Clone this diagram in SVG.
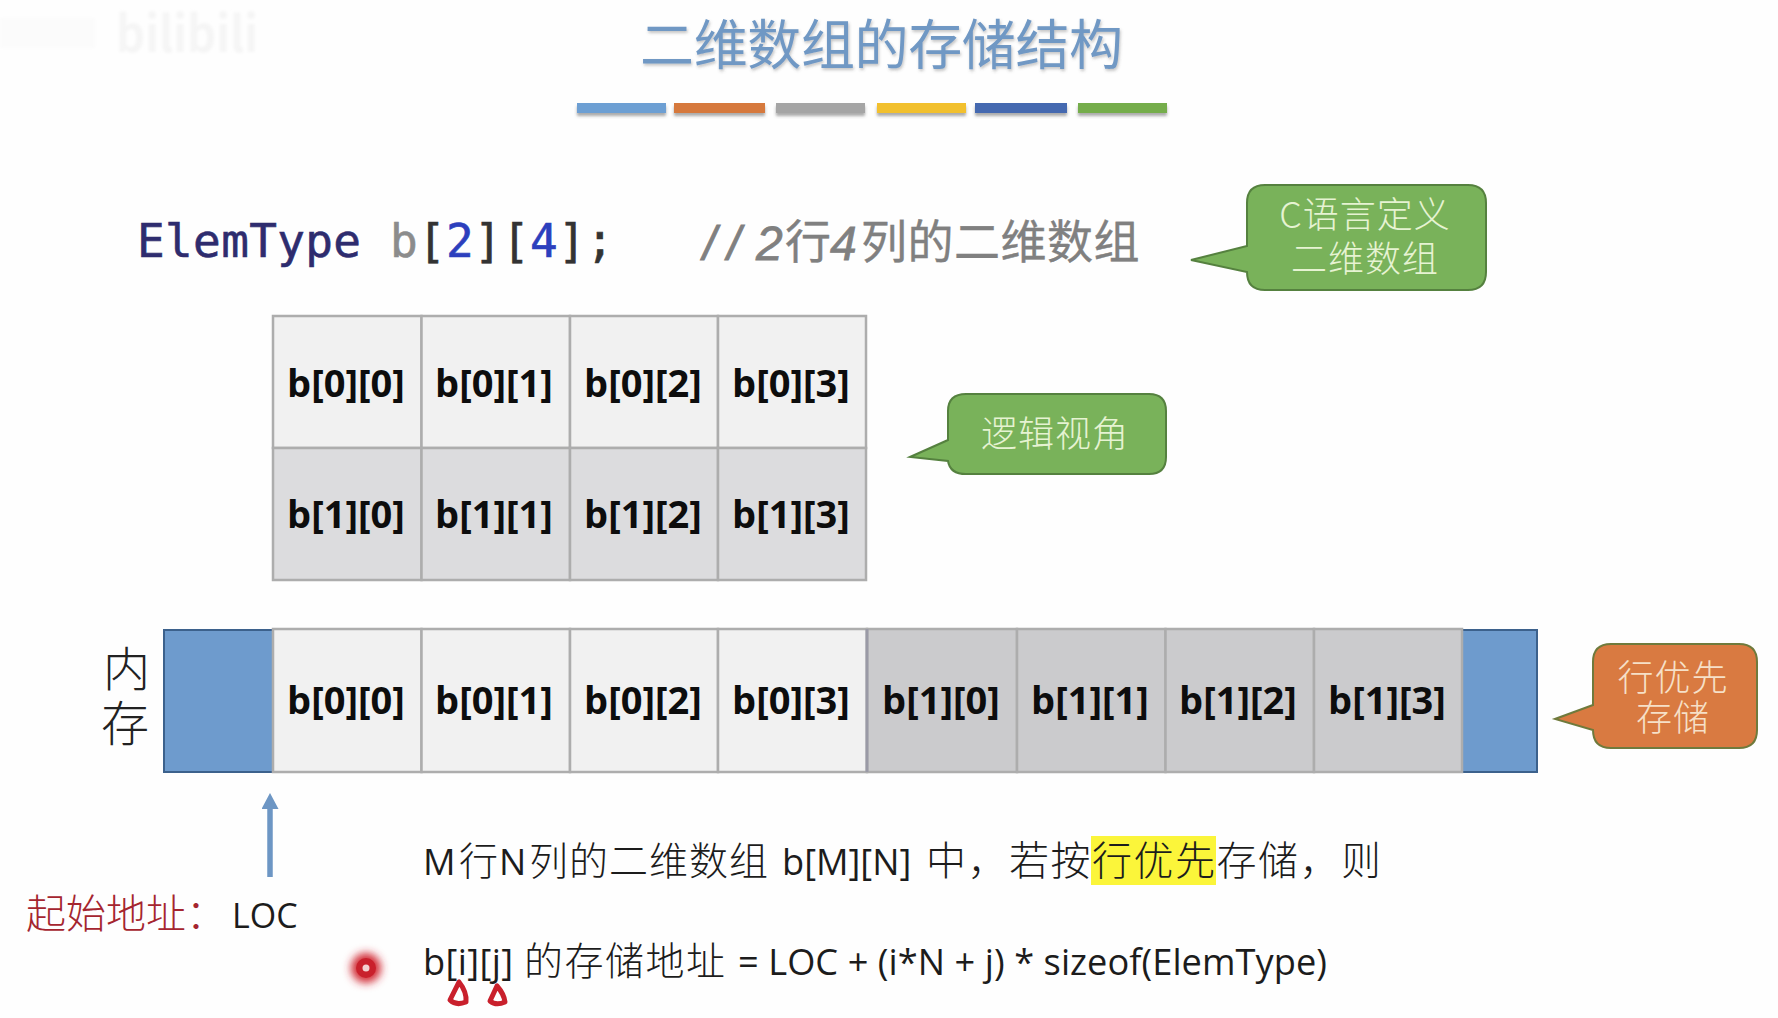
<svg xmlns="http://www.w3.org/2000/svg" width="1778" height="1018" viewBox="0 0 1778 1018">
<defs>
<filter id="sh" x="-10%" y="-20%" width="120%" height="160%"><feDropShadow dx="1" dy="2" stdDeviation="1.5" flood-color="#555" flood-opacity="0.35"/></filter>
<filter id="bar" x="-5%" y="-30%" width="110%" height="190%"><feDropShadow dx="0" dy="3" stdDeviation="1.5" flood-color="#555" flood-opacity="0.5"/></filter>
<filter id="glow" x="-80%" y="-80%" width="260%" height="260%"><feGaussianBlur stdDeviation="4"/></filter>
<filter id="wm" x="-10%" y="-30%" width="120%" height="160%"><feGaussianBlur stdDeviation="1.5"/></filter>
<marker id="up" viewBox="0 0 16 17" refX="1" refY="8.5" markerWidth="16" markerHeight="17" markerUnits="userSpaceOnUse" orient="auto"><path d="M0 0 L16 8.500 L0 17 Z" fill="#6d96c4"/></marker>
</defs>
<style>
text{font-family:"Noto Sans CJK SC","Noto Sans",sans-serif}
.cell{stroke:#adadad;stroke-width:2.5}
.l{fill:#f1f1f1}.d{fill:#dcdcde}.g{fill:#cbcbcd}.b{fill:#6e9bcd;stroke:#3c618c;stroke-width:2}
.t{font-family:"Open Sans","Noto Sans",sans-serif;font-weight:700;font-size:38px;fill:#0d0d0d;text-anchor:middle}
.c{font-size:36px;fill:#e6f3d2;text-anchor:middle;font-weight:300}
.m{font-size:39px;fill:#1c1c1c;font-weight:300}
.e{font-family:"Open Sans","Noto Sans",sans-serif;font-size:36.200px;fill:#1c1c1c}
.code{font-family:"DejaVu Sans Mono",monospace;font-size:46px;stroke-width:.6px}
.cm{font-size:46px;fill:#808080;stroke:#808080;stroke-width:.4px}
.cl{font-family:"Liberation Sans",sans-serif;font-style:italic;font-size:48px;fill:#808080;stroke:#808080;stroke-width:.8px}
.gc{fill:#79b25a;stroke:#55813f;stroke-width:2}
</style>
<rect width="1778" height="1018" fill="#fefefe"/>
<g id="watermark" filter="url(#wm)"><rect x="0" y="18" width="95" height="30" fill="#fbfbfb"/><text x="116" y="52" font-family="Liberation Sans, sans-serif" font-weight="700" font-size="50" fill="#f5f5f5" textLength="142" lengthAdjust="spacingAndGlyphs">bilibili</text></g>
<g id="title">
<text x="640" y="65" font-size="54" fill="#7098c4" filter="url(#sh)" textLength="483" lengthAdjust="spacing">二维数组的存储结构</text>
<g filter="url(#bar)">
<rect x="577" y="103" width="89" height="10" fill="#6d9fd3"/>
<rect x="674" y="103" width="91" height="10" fill="#d6793c"/>
<rect x="776" y="103" width="89" height="10" fill="#a5a5a5"/>
<rect x="877" y="103" width="89" height="10" fill="#f2c02f"/>
<rect x="975" y="103" width="92" height="10" fill="#4469b0"/>
<rect x="1078" y="103" width="89" height="10" fill="#74ad4c"/>
</g>
</g>
<g id="code">
<text x="137" y="257" class="code" fill="#2e2c6e" stroke="#2e2c6e" textLength="224">ElemType</text>
<text x="390" y="257" class="code" fill="#8c8c8c" stroke="#8c8c8c">b</text>
<text x="418" y="257" class="code" fill="#333" stroke="#333">[</text>
<text x="446" y="257" class="code" fill="#2c3fbd" stroke="#2c3fbd">2</text>
<text x="474" y="257" class="code" fill="#333" stroke="#333">]</text>
<text x="502" y="257" class="code" fill="#333" stroke="#333">[</text>
<text x="530" y="257" class="code" fill="#2c3fbd" stroke="#2c3fbd">4</text>
<text x="558" y="257" class="code" fill="#333" stroke="#333">]</text>
<text x="586" y="257" class="code" fill="#333" stroke="#333">;</text>
<text x="703" y="260" class="cl" letter-spacing="11">//</text>
<text x="756" y="260" class="cl">2</text>
<text x="785" y="258" class="cm">行</text>
<text x="830" y="260" class="cl">4</text>
<text x="861" y="258" class="cm" letter-spacing=".5">列的二维数组</text>
</g>
<g id="logical-grid">
<rect class="cell l" x="273" y="316" width="148.500" height="132"/><text class="t" x="346" y="397">b[0][0]</text>
<rect class="cell l" x="421.500" y="316" width="148.500" height="132"/><text class="t" x="494" y="397">b[0][1]</text>
<rect class="cell l" x="570" y="316" width="148" height="132"/><text class="t" x="643" y="397">b[0][2]</text>
<rect class="cell l" x="718" y="316" width="148" height="132"/><text class="t" x="791" y="397">b[0][3]</text>
<rect class="cell d" x="273" y="448" width="148.500" height="132"/><text class="t" x="346" y="528">b[1][0]</text>
<rect class="cell d" x="421.500" y="448" width="148.500" height="132"/><text class="t" x="494" y="528">b[1][1]</text>
<rect class="cell d" x="570" y="448" width="148" height="132"/><text class="t" x="643" y="528">b[1][2]</text>
<rect class="cell d" x="718" y="448" width="148" height="132"/><text class="t" x="791" y="528">b[1][3]</text>
</g>
<g id="memory">
<text x="103" y="686" font-size="47" font-weight="300" fill="#222">内</text>
<text x="101" y="741" font-size="48" font-weight="300" fill="#222">存</text>
<rect class="b" x="164" y="630" width="109" height="142"/>
<rect class="b" x="1462" y="630" width="75" height="142"/>
<rect class="cell l" x="273" y="629" width="148.500" height="143"/><text class="t" x="346" y="714">b[0][0]</text>
<rect class="cell l" x="421.500" y="629" width="148.500" height="143"/><text class="t" x="494" y="714">b[0][1]</text>
<rect class="cell l" x="570" y="629" width="148" height="143"/><text class="t" x="643" y="714">b[0][2]</text>
<rect class="cell l" x="718" y="629" width="149" height="143"/><text class="t" x="791" y="714">b[0][3]</text>
<rect class="cell g" x="867" y="629" width="150" height="143"/><text class="t" x="941" y="714">b[1][0]</text>
<rect class="cell g" x="1017" y="629" width="148.500" height="143"/><text class="t" x="1090" y="714">b[1][1]</text>
<rect class="cell g" x="1165.500" y="629" width="148.500" height="143"/><text class="t" x="1238" y="714">b[1][2]</text>
<rect class="cell g" x="1314" y="629" width="148" height="143"/><text class="t" x="1387" y="714">b[1][3]</text>
<line x1="867" y1="629" x2="867" y2="772" stroke="#9a9aa6" stroke-width="3"/>
</g>
<g id="callout-c">
<path class="gc" d="M1265 185H1468Q1486 185 1486 203V272Q1486 290 1468 290H1265Q1247 290 1247 272L1191 260L1247 246V203Q1247 185 1265 185Z"/>
<text class="c" x="1365" y="228" letter-spacing="1">C语言定义</text><text class="c" x="1365" y="272" letter-spacing="1">二维数组</text>
</g>
<g id="callout-logic">
<path class="gc" d="M966 394H1149Q1166 394 1166 411V457Q1166 474 1149 474H966Q950 474 948 461L910 457L948 440V411Q948 394 966 394Z"/>
<text class="c" x="1055" y="447" letter-spacing="1">逻辑视角</text>
</g>
<g id="callout-row">
<path d="M1611 644H1739Q1757 644 1757 662V730Q1757 748 1739 748H1611Q1593 748 1593 730L1555 719L1593 705V662Q1593 644 1611 644Z" fill="#d97a41" stroke="#6f7a3c" stroke-width="2"/>
<text x="1673" y="691" font-size="36" font-weight="300" letter-spacing="1" text-anchor="middle" fill="#f6e0c8">行优先</text>
<text x="1673" y="731" font-size="36" font-weight="300" letter-spacing="1" text-anchor="middle" fill="#f6e0c8">存储</text>
</g>
<g id="connectors">
<line x1="270" y1="877" x2="270" y2="808" stroke="#6d96c4" stroke-width="5.500" marker-end="url(#up)"/>
</g>
<g id="start-address">
<text x="26" y="928" font-size="40" font-weight="300" fill="#a5252f">起始地址：</text>
<text x="232" y="928" class="e" style="font-size:34px">LOC</text>
</g>
<g id="formula">
<rect x="1091" y="836" width="125" height="49" fill="#fbf53a"/>
<text x="423" y="875" class="e">M</text>
<text x="459" y="875" class="m">行</text>
<text x="499" y="875" class="e">N</text>
<text x="529" y="875" class="m" letter-spacing="1">列的二维数组</text>
<text x="782" y="875" class="e">b[M][N]</text>
<text x="926" y="875" class="m" style="font-size:40px" letter-spacing="1.500">中，若按行优先存储，则</text>
<text x="423" y="975" class="e" textLength="90">b[i][j]</text>
<text x="524" y="975" class="m" letter-spacing="1.500">的存储地址</text>
<text x="738" y="975" class="e" textLength="589">= LOC + (i*N + j) * sizeof(ElemType)</text>
</g>
<g id="pointer">
<circle cx="366" cy="968" r="15" fill="#d12a36" filter="url(#glow)"/>
<circle cx="366" cy="968" r="10" fill="#c9202c"/>
<circle cx="366" cy="968" r="3.500" fill="#f3d0d0"/>
<path d="M459 982 L450 1000 Q456 1006 466 1002 Q467 992 459 982 Z M497 986 L490 1001 Q496 1006 505 1002 Q504 994 497 986 Z" fill="none" stroke="#c9202c" stroke-width="5" stroke-linejoin="round"/>
</g>
</svg>
